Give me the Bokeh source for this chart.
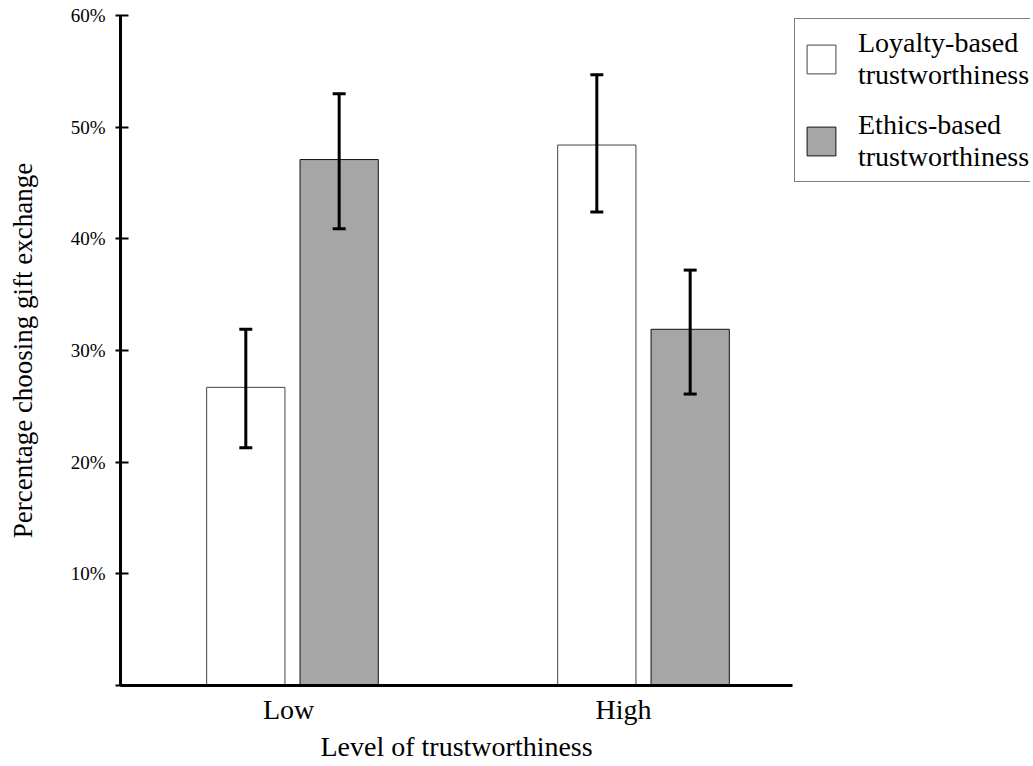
from bokeh.plotting import figure
from bokeh.models import (ColumnDataSource, Range1d, FixedTicker, Whisker, TeeHead,
                          Legend, LegendItem, Title)
from bokeh.embed import file_html
from bokeh.resources import INLINE

# ---- data (percent) ----
levels = ["Low", "High"]
loyalty = [26.7, 48.4]
loyalty_lo = [21.3, 42.4]
loyalty_hi = [31.9, 54.7]
ethics = [47.1, 31.9]
ethics_lo = [40.9, 26.1]
ethics_hi = [53.0, 37.2]
y_ticks = [0, 10, 20, 30, 40, 50, 60]
y_tick_labels = ["", "10%", "20%", "30%", "40%", "50%", "60%"]
x_label_pos = [-0.011, 0.943]   # where the category labels sit
series_names = ["Loyalty-based\ntrustworthiness", "Ethics-based\ntrustworthiness"]
x_title = "Level of trustworthiness"
y_title = "Percentage choosing gift exchange"

group_x = [0, 1]
dodge = 0.133
bar_w = 0.223

FONT = "Liberation Serif"
W, H = 1030, 762
X_START = -0.49
X_AXIS_END = 1.4245
X_END = (W - 292) / 351.0

p = figure(width=W, height=H, output_backend="svg", toolbar_location=None,
           x_range=Range1d(X_START, X_END), y_range=Range1d(0, 60),
           min_border_left=120, min_border_right=0, min_border_top=15,
           min_border_bottom=H - 685)
p.outline_line_color = None
p.xgrid.visible = False
p.ygrid.visible = False
p.background_fill_color = "white"
p.border_fill_color = "white"

src_l = ColumnDataSource(dict(x=[g - dodge for g in group_x], top=loyalty,
                              lo=loyalty_lo, hi=loyalty_hi))
src_e = ColumnDataSource(dict(x=[g + dodge for g in group_x], top=ethics,
                              lo=ethics_lo, hi=ethics_hi))

r_l = p.vbar(x="x", top="top", bottom=0, width=bar_w, source=src_l,
             fill_color="white", line_color="#444444", line_width=1)
r_e = p.vbar(x="x", top="top", bottom=0, width=bar_w, source=src_e,
             fill_color="#a6a6a6", line_color="#111111", line_width=1)

for src in (src_l, src_e):
    w = Whisker(base="x", upper="hi", lower="lo", source=src, level="overlay",
                line_color="black", line_width=3,
                upper_head=TeeHead(size=13, line_width=3, line_color="black"),
                lower_head=TeeHead(size=13, line_width=3, line_color="black"))
    p.add_layout(w)

# y axis
ya = p.yaxis[0]
ya.ticker = FixedTicker(ticks=y_ticks)
ya.major_label_overrides = {t: s for t, s in zip(y_ticks, y_tick_labels)}
ya.minor_tick_line_color = None
ya.major_tick_in = 8
ya.major_tick_out = 5
ya.major_tick_line_width = 2
ya.axis_line_width = 3
ya.major_label_text_font = FONT
ya.major_label_text_font_size = "19px"
ya.major_label_text_color = "black"
ya.major_label_standoff = 10
ya.axis_label = y_title
ya.axis_label_text_font = FONT
ya.axis_label_text_font_size = "27px"
ya.axis_label_text_font_style = "normal"
ya.axis_label_text_color = "black"
ya.axis_label_standoff = 30

# x axis
xa = p.xaxis[0]
xa.bounds = (X_START, X_AXIS_END)
xa.ticker = FixedTicker(ticks=x_label_pos)
xa.major_label_overrides = {t: s for t, s in zip(x_label_pos, levels)}
xa.minor_tick_line_color = None
xa.major_tick_line_color = None
xa.major_tick_in = 0
xa.major_tick_out = 0
xa.axis_line_width = 3
xa.major_label_text_font = FONT
xa.major_label_text_font_size = "28px"
xa.major_label_text_color = "black"
xa.major_label_standoff = 8

# x-axis title, centred under the drawn axis rather than the whole frame
xt = Title(text=x_title, align="left", offset=200, standoff=2,
           text_font=FONT, text_font_size="28px", text_font_style="normal",
           text_color="black")
p.add_layout(xt, "below")

legend = Legend(items=[LegendItem(label=series_names[0], renderers=[r_l]),
                       LegendItem(label=series_names[1], renderers=[r_e])],
                location=(674, 503), margin=0, padding=8, spacing=18,
                glyph_width=36, glyph_height=36, label_standoff=19,
                label_text_font=FONT, label_text_font_size="28px",
                label_text_line_height=1.1, label_text_color="black",
                border_line_color="black", border_line_width=1,
                background_fill_color="white", background_fill_alpha=1)
p.add_layout(legend, "center")

open("out.html", "w").write(file_html(p, INLINE))
